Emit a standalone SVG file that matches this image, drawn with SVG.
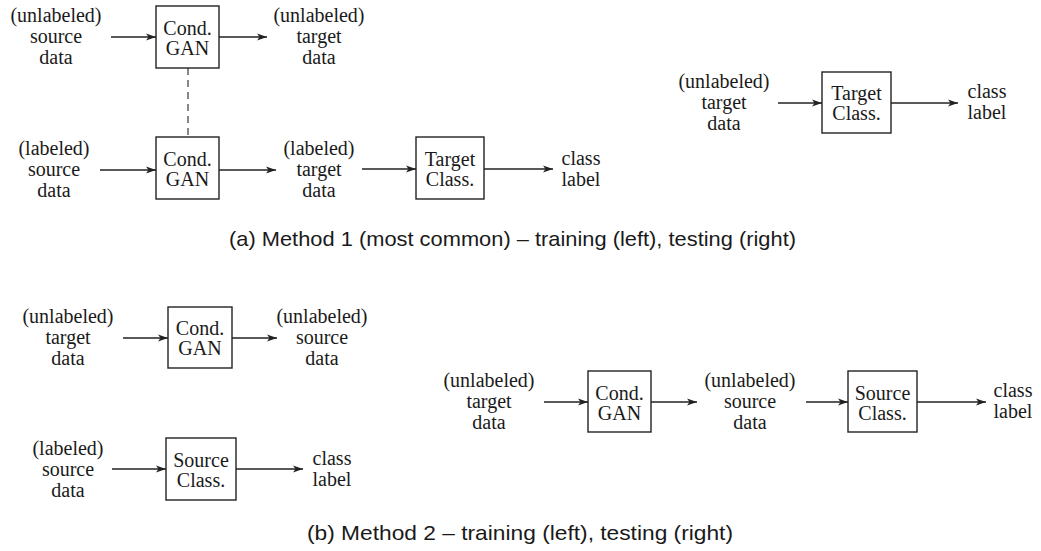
<svg xmlns="http://www.w3.org/2000/svg" width="1041" height="551" viewBox="0 0 1041 551">
<defs>
<marker id="ah" viewBox="0 0 10 8" refX="10" refY="4" markerWidth="10" markerHeight="8" markerUnits="userSpaceOnUse" orient="auto">
<path d="M0,0.5 L10,4 L0,7.5 L2.5,4 Z" fill="#222"/>
</marker>
<style>
.lbl{font-family:"Liberation Serif","DejaVu Serif",serif;font-size:20px;fill:#1a1a1a;text-anchor:middle}
.box{fill:#fff;stroke:#222;stroke-width:1.4}
.cap{font-family:"Liberation Sans","DejaVu Sans",sans-serif;font-size:21px;fill:#1a1a1a}
.arr{stroke:#222;stroke-width:1.4;fill:none;marker-end:url(#ah)}
.dash{stroke:#555;stroke-width:1.4;stroke-dasharray:7,5;fill:none}
</style>
</defs>
<rect width="1041" height="551" fill="#fff"/>
<g id="connectors">
<line class="arr" x1="111" y1="37" x2="156" y2="37"/>
<line class="arr" x1="219" y1="37" x2="267" y2="37"/>
<line class="dash" x1="188" y1="68" x2="188" y2="137"/>
<line class="arr" x1="100" y1="170" x2="156" y2="170"/>
<line class="arr" x1="219" y1="170" x2="276" y2="170"/>
<line class="arr" x1="362" y1="169" x2="416" y2="169"/>
<line class="arr" x1="484" y1="169" x2="553" y2="169"/>
<line class="arr" x1="778" y1="103" x2="822" y2="103"/>
<line class="arr" x1="891" y1="103" x2="958" y2="103"/>
<line class="arr" x1="123" y1="338" x2="168" y2="338"/>
<line class="arr" x1="232" y1="338" x2="277" y2="338"/>
<line class="arr" x1="112" y1="469" x2="166" y2="469"/>
<line class="arr" x1="236" y1="469" x2="303" y2="469"/>
<line class="arr" x1="544" y1="402" x2="588" y2="402"/>
<line class="arr" x1="651" y1="402" x2="697" y2="402"/>
<line class="arr" x1="806" y1="402" x2="848" y2="402"/>
<line class="arr" x1="917" y1="402" x2="986" y2="402"/>
</g>
<g id="m1-src-unlab"><text class="lbl"><tspan x="56" y="22">(unlabeled)</tspan><tspan x="56" y="43">source</tspan><tspan x="56" y="64">data</tspan></text></g>
<g id="m1-gan1"><rect class="box" x="156" y="6" width="63" height="62"/><text class="lbl"><tspan x="187.5" y="35">Cond.</tspan><tspan x="187.5" y="55">GAN</tspan></text></g>
<g id="m1-tgt-unlab"><text class="lbl"><tspan x="319" y="22">(unlabeled)</tspan><tspan x="319" y="43">target</tspan><tspan x="319" y="64">data</tspan></text></g>
<g id="m1-src-lab"><text class="lbl"><tspan x="54" y="155">(labeled)</tspan><tspan x="54" y="176">source</tspan><tspan x="54" y="197">data</tspan></text></g>
<g id="m1-gan2"><rect class="box" x="156" y="137" width="63" height="62"/><text class="lbl"><tspan x="187.5" y="166">Cond.</tspan><tspan x="187.5" y="186">GAN</tspan></text></g>
<g id="m1-tgt-lab"><text class="lbl"><tspan x="319" y="155">(labeled)</tspan><tspan x="319" y="176">target</tspan><tspan x="319" y="197">data</tspan></text></g>
<g id="m1-tclass"><rect class="box" x="416" y="137" width="68" height="62"/><text class="lbl"><tspan x="450" y="166">Target</tspan><tspan x="450" y="186">Class.</tspan></text></g>
<g id="m1-label"><text class="lbl"><tspan x="581" y="165">class</tspan><tspan x="581" y="186">label</tspan></text></g>
<g id="m1t-tgt"><text class="lbl"><tspan x="724" y="88">(unlabeled)</tspan><tspan x="724" y="109">target</tspan><tspan x="724" y="130">data</tspan></text></g>
<g id="m1t-tclass"><rect class="box" x="822" y="72" width="69" height="61"/><text class="lbl"><tspan x="856.5" y="100">Target</tspan><tspan x="856.5" y="120">Class.</tspan></text></g>
<g id="m1t-label"><text class="lbl"><tspan x="987" y="98">class</tspan><tspan x="987" y="119">label</tspan></text></g>
<text class="cap" x="229" y="246" textLength="567" lengthAdjust="spacingAndGlyphs">(a) Method 1 (most common) – training (left), testing (right)</text>
<g id="m2-tgt"><text class="lbl"><tspan x="68" y="323">(unlabeled)</tspan><tspan x="68" y="344">target</tspan><tspan x="68" y="365">data</tspan></text></g>
<g id="m2-gan"><rect class="box" x="168" y="307" width="64" height="61"/><text class="lbl"><tspan x="200" y="335">Cond.</tspan><tspan x="200" y="355">GAN</tspan></text></g>
<g id="m2-src"><text class="lbl"><tspan x="322" y="323">(unlabeled)</tspan><tspan x="322" y="344">source</tspan><tspan x="322" y="365">data</tspan></text></g>
<g id="m2-src-lab"><text class="lbl"><tspan x="68" y="455">(labeled)</tspan><tspan x="68" y="476">source</tspan><tspan x="68" y="497">data</tspan></text></g>
<g id="m2-sclass"><rect class="box" x="166" y="438" width="70" height="62"/><text class="lbl"><tspan x="201" y="467">Source</tspan><tspan x="201" y="487">Class.</tspan></text></g>
<g id="m2-label"><text class="lbl"><tspan x="332" y="465">class</tspan><tspan x="332" y="486">label</tspan></text></g>
<g id="m2t-tgt"><text class="lbl"><tspan x="489" y="387">(unlabeled)</tspan><tspan x="489" y="408">target</tspan><tspan x="489" y="429">data</tspan></text></g>
<g id="m2t-gan"><rect class="box" x="588" y="371" width="63" height="61"/><text class="lbl"><tspan x="619.5" y="400">Cond.</tspan><tspan x="619.5" y="420">GAN</tspan></text></g>
<g id="m2t-src"><text class="lbl"><tspan x="750" y="387">(unlabeled)</tspan><tspan x="750" y="408">source</tspan><tspan x="750" y="429">data</tspan></text></g>
<g id="m2t-sclass"><rect class="box" x="848" y="371" width="69" height="61"/><text class="lbl"><tspan x="882.5" y="400">Source</tspan><tspan x="882.5" y="420">Class.</tspan></text></g>
<g id="m2t-label"><text class="lbl"><tspan x="1013" y="397">class</tspan><tspan x="1013" y="418">label</tspan></text></g>
<text class="cap" x="307" y="540" textLength="426" lengthAdjust="spacingAndGlyphs">(b) Method 2 – training (left), testing (right)</text>
</svg>
